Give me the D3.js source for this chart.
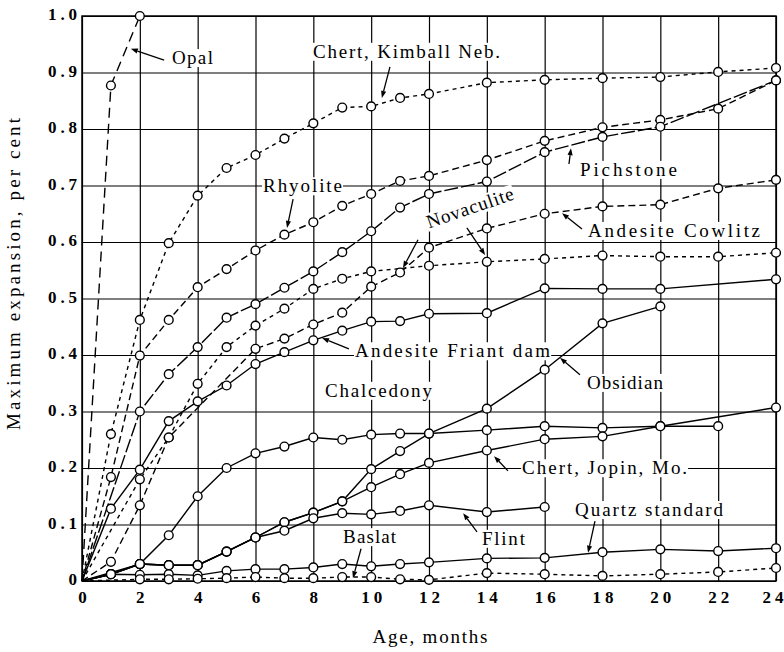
<!DOCTYPE html>
<html><head><meta charset="utf-8">
<script src="https://cdn.jsdelivr.net/npm/d3@7"></script>
<style>
body{margin:0;background:#fff}
svg{display:block;background:#fff}
text{font-family:"Liberation Serif","Times New Roman",serif;fill:#000}
</style></head><body>
<svg id="chart" width="784" height="652"></svg>
<script>
// ---------- data (month, per cent expansion) ----------
const xTickValues = [0,2,4,6,8,10,12,14,16,18,20,22,24];
const yTickValues = [0,0.1,0.2,0.3,0.4,0.5,0.6,0.7,0.8,0.9,1.0];
const yTickLabels = ["0","0.1","0.2","0.3","0.4","0.5","0.6","0.7","0.8","0.9","1.0"];

const opal = [[0,0],[1,0.877],[2,1.0]];
const chertKimball = [[0,0],[1,0.26],[2,0.462],[3,0.598],[4,0.682],[5,0.731],[6,0.754],[7,0.783],[8,0.81],[9,0.838],[10,0.84],[11,0.855],[12,0.862],[14,0.882],[16,0.887],[18,0.89],[20,0.892],[22,0.901],[24,0.908]];
const rhyolite = [[0,0],[1,0.184],[2,0.399],[3,0.462],[4,0.52],[5,0.552],[6,0.585],[7,0.613],[8,0.635],[9,0.664],[10,0.685],[11,0.708],[12,0.717],[14,0.745],[16,0.779],[18,0.803],[20,0.816],[22,0.836],[24,0.886]];
const pichstone = [[0,0],[2,0.3],[3,0.366],[4,0.414],[5,0.466],[6,0.49],[7,0.519],[8,0.548],[9,0.582],[10,0.619],[11,0.661],[12,0.685],[14,0.707],[16,0.759],[18,0.786],[20,0.804],[24,0.886]];
const novaculite = [[0,0],[2,0.18],[3,0.254],[4,0.349],[5,0.414],[6,0.452],[7,0.482],[8,0.517],[9,0.535],[10,0.548],[12,0.558],[14,0.565],[16,0.57],[18,0.576],[20,0.574],[22,0.574],[24,0.581]];
const andesiteCowlitz = [[0,0],[1,0.034],[2,0.134],[3,0.254],[6,0.411],[7,0.429],[8,0.454],[9,0.475],[10,0.521],[11,0.546],[12,0.59],[14,0.624],[16,0.65],[18,0.663],[20,0.666],[22,0.695],[24,0.71]];
const andesiteFriant = [[0,0],[1,0.128],[2,0.197],[3,0.283],[4,0.318],[5,0.346],[6,0.384],[7,0.405],[8,0.426],[9,0.443],[10,0.459],[11,0.46],[12,0.473],[14,0.474],[16,0.518],[18,0.517],[20,0.517],[24,0.534]];
const chalcedony = [[0,0],[2,0.03],[3,0.081],[4,0.15],[5,0.2],[6,0.226],[7,0.238],[8,0.254],[9,0.25],[10,0.259],[11,0.261],[12,0.261],[14,0.267],[16,0.274],[18,0.271],[20,0.274],[22,0.274]];
const obsidian = [[0,0],[1,0.012],[2,0.03],[3,0.028],[4,0.028],[5,0.052],[6,0.077],[7,0.104],[8,0.121],[9,0.141],[10,0.198],[11,0.23],[12,0.261],[14,0.305],[16,0.374],[18,0.456],[20,0.486]];
const chertJopin = [[0,0],[1,0.012],[2,0.03],[3,0.028],[4,0.028],[5,0.052],[6,0.077],[7,0.104],[8,0.121],[9,0.141],[10,0.166],[11,0.189],[12,0.209],[14,0.231],[16,0.251],[18,0.256],[20,0.274],[24,0.307]];
const flint = [[0,0],[1,0.012],[2,0.03],[3,0.028],[4,0.028],[5,0.052],[6,0.077],[7,0.089],[8,0.111],[9,0.12],[10,0.118],[11,0.124],[12,0.134],[14,0.122],[16,0.131]];
const quartzStandard = [[0,0],[1,0.012],[2,0.011],[3,0.012],[4,0.01],[5,0.018],[6,0.021],[7,0.021],[8,0.024],[9,0.03],[10,0.026],[11,0.03],[12,0.033],[14,0.04],[16,0.041],[18,0.051],[20,0.056],[22,0.053],[24,0.058]];
const baslat = [[0,0],[2,0.003],[3,0.003],[4,0.004],[5,0.005],[6,0.007],[7,0.005],[8,0.005],[9,0.007],[10,0.007],[11,0.003],[12,0.002],[14,0.014],[16,0.012],[18,0.009],[20,0.012],[22,0.016],[24,0.023]];

const seriesNames = ["Opal","Chert, Kimball Neb.","Rhyolite","Novaculite","Pichstone","Andesite Cowlitz","Andesite Friant dam","Chalcedony","Obsidian","Chert, Jopin, Mo.","Quartz standard","Flint","Baslat"];

// ---------- layout ----------
const x = d3.scaleLinear().domain([0,24]).range([82,776]);
const y = d3.scaleLinear().domain([0,1]).range([581,16]);

const svg = d3.select("#chart");
const gGrid = svg.append("g");
const gBg = svg.append("g");
const gData = svg.append("g");
const gLab = svg.append("g");

// grid + ticks via axes
const xAx = gGrid.append("g").attr("transform","translate(0,581)")
  .call(d3.axisBottom(x).tickValues(xTickValues).tickSize(-(581-16)).tickFormat(d=>String(d)));
const yAx = gGrid.append("g").attr("transform","translate(82,0)")
  .call(d3.axisLeft(y).tickValues(yTickValues).tickSize(-(776-82)).tickFormat((d,i)=>yTickLabels[i]));
[xAx,yAx].forEach(a=>{
  a.select(".domain").remove();
  a.selectAll(".tick line").attr("stroke","#000").attr("stroke-width",1.2);
  a.selectAll("text").attr("font-family",'"Liberation Serif",serif').attr("font-size",17)
    .attr("font-weight","bold").attr("fill","#000").attr("dy",null);
});
xAx.selectAll("text").attr("y",22).attr("text-anchor","middle")
  .each(function(d){
    const s=String(d), t=d3.select(this);
    t.attr("textLength", s.length===1?9:21).attr("lengthAdjust","spacing");
    if(d===24) t.attr("text-anchor","end").attr("x",7);
  });
yAx.selectAll("text").attr("x",-5).attr("y",3.5).attr("text-anchor","end")
  .each(function(d,i){ const s=yTickLabels[i]; if(s.length>1) d3.select(this).attr("textLength",29).attr("lengthAdjust","spacing"); });

// frame
gGrid.append("rect").attr("x",x(0)).attr("y",y(1)).attr("width",x(24)-x(0)).attr("height",y(0)-y(1))
  .attr("fill","none").attr("stroke","#000").attr("stroke-width",1.5);

// axis titles
svg.append("text").attr("x",(x(0)+x(24))/2 + 1).attr("y",643).attr("text-anchor","middle")
  .attr("font-size",19).attr("textLength",115).attr("lengthAdjust","spacing").text("Age, months");
svg.append("text").attr("transform","translate(20,274) rotate(-90)").attr("text-anchor","middle")
  .attr("font-size",19).attr("textLength",312).attr("lengthAdjust","spacing").text("Maximum expansion, per cent");

// ---------- series ----------
const series = [
  {data:opal, dash:"10,6"},
  {data:chertKimball, dash:"4,4"},
  {data:rhyolite, dash:"7,4"},
  {data:novaculite, dash:"4,4"},
  {data:pichstone, dash:"14,3"},
  {data:andesiteCowlitz, dash:"7,4"},
  {data:andesiteFriant, dash:null},
  {data:chalcedony, dash:null},
  {data:obsidian, dash:null},
  {data:chertJopin, dash:null},
  {data:quartzStandard, dash:null},
  {data:flint, dash:null},
  {data:baslat, dash:"4,4"}
];
const line = d3.line().x(d=>x(d[0])).y(d=>y(d[1]));
series.forEach(s=>{
  gData.append("path").attr("d",line(s.data)).attr("fill","none").attr("stroke","#000")
    .attr("stroke-width",1.4).attr("stroke-dasharray",s.dash);
});
series.forEach(s=>{
  gData.selectAll(null).data(s.data.filter(d=>d[0]>0)).enter().append("circle")
    .attr("cx",d=>x(d[0])).attr("cy",d=>y(d[1])).attr("r",4.4)
    .attr("fill","#fff").attr("stroke","#000").attr("stroke-width",1.4);
});

// ---------- annotations (data coordinates) ----------
const annotations = [
  {name:"Opal", at:[3.11,0.915], w:41, arrows:[[[2.84,0.922],[1.69,0.942]]]},
  {name:"Chert, Kimball Neb.", at:[7.99,0.926], w:187, arrows:[[[10.65,0.910],[10.37,0.855]]]},
  {name:"Rhyolite", at:[6.26,0.688], w:79, arrows:[[[7.30,0.676],[7.09,0.625]]]},
  {name:"Novaculite", center:[13.42,0.660], rot:-19, w:91, arrows:[[[13.31,0.625],[13.94,0.577]],[[11.62,0.604],[11.10,0.554]]]},
  {name:"Pichstone", at:[17.22,0.717], w:97, arrows:[[[16.84,0.738],[16.91,0.766]]]},
  {name:"Andesite Cowlitz", at:[17.50,0.609], w:172, arrows:[[[17.29,0.623],[16.60,0.651]]]},
  {name:"Andesite Friant dam", at:[9.44,0.396], w:195, arrows:[[[9.23,0.411],[8.30,0.430]]]},
  {name:"Chalcedony", at:[8.40,0.326], w:107, arrows:[]},
  {name:"Obsidian", at:[17.46,0.340], w:76, arrows:[[[17.22,0.365],[16.53,0.395]]]},
  {name:"Chert, Jopin, Mo.", at:[15.22,0.189], w:165, arrows:[[[14.73,0.195],[14.25,0.221]]]},
  {name:"Quartz standard", at:[17.05,0.115], w:148, arrows:[[[17.74,0.106],[17.50,0.050]]]},
  {name:"Flint", at:[13.83,0.064], w:43, arrows:[[[13.66,0.087],[13.18,0.120]]]},
  {name:"Baslat", at:[9.03,0.067], w:53, arrows:[[[9.65,0.057],[9.37,0.005]]]}
];

function arrow(p0,p1){
  const x0=x(p0[0]), y0=y(p0[1]), x1=x(p1[0]), y1=y(p1[1]);
  const dx=x1-x0, dy=y1-y0, L=Math.hypot(dx,dy), ux=dx/L, uy=dy/L;
  const hl=7, hw=2.6;
  const bx=x1-ux*hl, by=y1-uy*hl;
  gLab.append("line").attr("x1",x0).attr("y1",y0).attr("x2",bx).attr("y2",by)
    .attr("stroke","#000").attr("stroke-width",1.3);
  gLab.append("path").attr("d",`M${x1},${y1}L${bx-uy*hw},${by+ux*hw}L${bx+uy*hw},${by-ux*hw}Z`).attr("fill","#000");
}

annotations.forEach(a=>{
  let t;
  if(a.center){
    const cx=x(a.center[0]), cy=y(a.center[1]);
    t = gLab.append("text").attr("transform",`translate(${cx},${cy}) rotate(${a.rot})`)
      .attr("text-anchor","middle").attr("y",6);
  } else {
    t = gLab.append("text").attr("x",x(a.at[0])).attr("y",y(a.at[1]));
  }
  t.attr("font-size",19).attr("textLength",a.w).attr("lengthAdjust","spacing").text(a.name);
  const bb = t.node().getBBox();
  const r = gBg.append("rect").attr("x",bb.x-1).attr("y",bb.y+2).attr("width",bb.width+2).attr("height",bb.height-3).attr("fill","#fff");
  if(a.center) r.attr("transform",t.attr("transform"));
  a.arrows.forEach(p=>arrow(p[0],p[1]));
});
</script>
</body></html>
